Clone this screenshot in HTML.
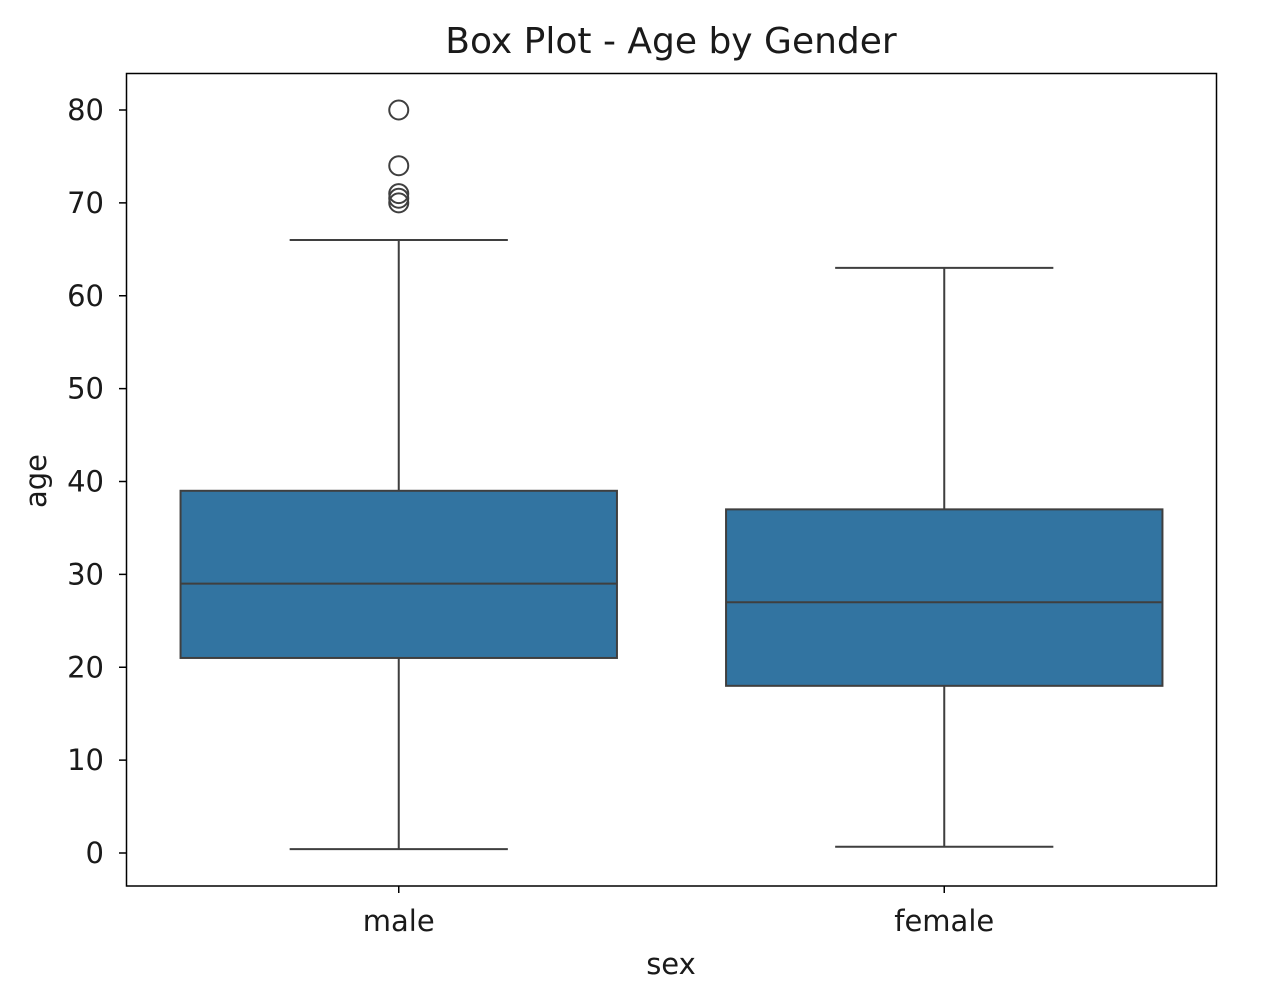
<!DOCTYPE html>
<html><head><meta charset="utf-8"><style>
html,body{margin:0;padding:0;background:#fff;}
svg{display:block;font-family:"DejaVu Sans","Liberation Sans",sans-serif;}
</style></head><body>
<svg id="chart" width="1287" height="994" viewBox="0 0 1287 994">
<text x="671" y="53" font-size="36" text-anchor="middle" fill="#1a1a1a">Box Plot - Age by Gender</text>
<text x="671" y="974" font-size="29" text-anchor="middle" fill="#1a1a1a">sex</text>
<text x="0" y="0" font-size="29" text-anchor="middle" fill="#1a1a1a" transform="translate(46,481) rotate(-90)">age</text>
<g id="marks"></g>
<rect x="126.5" y="73.5" width="1090" height="812.5" fill="none" stroke="#000" stroke-width="1.5"/>
</svg>
<script>
const categories = ["male", "female"];
const q1 = [21, 18];
const medians = [29, 27];
const q3 = [39, 37];
const whiskerLow = [0.42, 0.67];
const whiskerHigh = [66, 63];
const outliersMale = [80, 74, 71, 70.5, 70];
const outliersFemale = [];
const yTicks = [0, 10, 20, 30, 40, 50, 60, 70, 80];

const NS = "http://www.w3.org/2000/svg";
const g = document.getElementById("marks");
const y = v => 853 - v * (743 / 80);
const x = i => 126 + (i + 0.5) * 545.5;
const bw = 0.8 * 545.5;
function mk(tag, attrs, parent) {
  const e = document.createElementNS(NS, tag);
  for (const k in attrs) e.setAttribute(k, attrs[k]);
  (parent || g).appendChild(e);
  return e;
}
yTicks.forEach(t => {
  const l = mk("line", {x1: 119, x2: 126, y1: y(t), y2: y(t), stroke: "#000", "stroke-width": 1.5});
  
  
  const tx = mk("text", {x: 104, y: y(t) + 10, "font-size": 29, "text-anchor": "end", fill: "#1a1a1a"});
  tx.textContent = t;
  
  
});
const outs = [outliersMale, outliersFemale];
categories.forEach((c, i) => {
  const cx = x(i);
  const tk = mk("line", {x1: cx, x2: cx, y1: 886, y2: 893, stroke: "#000", "stroke-width": 1.5});
  
  
  const tl = mk("text", {x: cx, y: 931, "font-size": 29, "text-anchor": "middle", fill: "#1a1a1a"});
  tl.textContent = c;
  
  
  const st = {stroke: "#3f3f3f", "stroke-width": 2};
  const w1 = mk("line", Object.assign({x1: cx, x2: cx, y1: y(q3[i]), y2: y(whiskerHigh[i])}, st));
  
  
  const w2 = mk("line", Object.assign({x1: cx, x2: cx, y1: y(q1[i]), y2: y(whiskerLow[i])}, st));
  
  
  const c1 = mk("line", Object.assign({x1: cx - bw / 4, x2: cx + bw / 4, y1: y(whiskerHigh[i]), y2: y(whiskerHigh[i])}, st));
  
  
  const c2 = mk("line", Object.assign({x1: cx - bw / 4, x2: cx + bw / 4, y1: y(whiskerLow[i]), y2: y(whiskerLow[i])}, st));
  
  
  const b = mk("rect", Object.assign({x: cx - bw / 2, y: y(q3[i]), width: bw, height: y(q1[i]) - y(q3[i]), fill: "#3274a1"}, st));
  
  
  const m = mk("line", Object.assign({x1: cx - bw / 2, x2: cx + bw / 2, y1: y(medians[i]), y2: y(medians[i])}, st));
  
  
  outs[i].forEach((v, j) => {
    const o = mk("circle", {cx: cx, cy: y(v), r: 9.5, fill: "none", stroke: "#3f3f3f", "stroke-width": 2});
    
    
  });
});
</script>
</body></html>
